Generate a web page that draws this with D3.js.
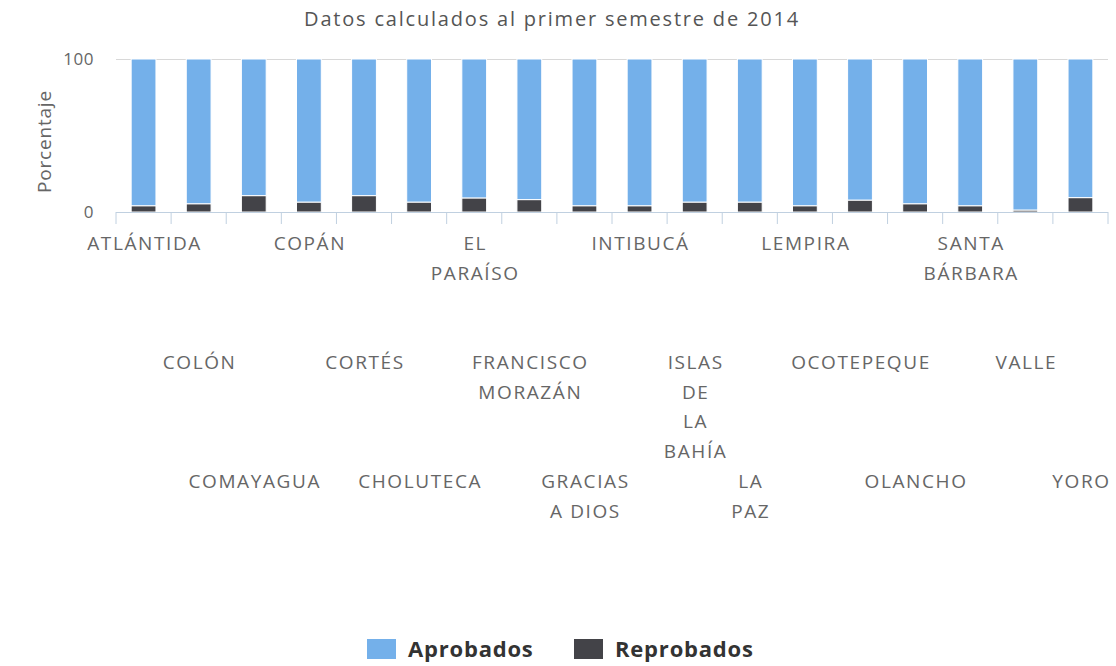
<!DOCTYPE html>
<html>
<head>
  <meta charset="UTF-8">
  <title>Aprobados y reprobados por departamento</title>
  <style>
    body {
      margin: 0;
      background: #fff;
      font-family: "Open Sans", sans-serif;
      overflow: hidden;
    }
    .title { font-size: 20px; letter-spacing: 1.8px; fill: #555; }
    .ylabel { font-size: 17px; fill: #666; letter-spacing: 0.5px; }
    .ytitle { font-size: 19px; fill: #666; letter-spacing: 0.8px; }
    .xlabel { font-size: 19px; fill: #666; letter-spacing: 1.6px; }
    .legend text { font-size: 22px; font-weight: bold; fill: #333; letter-spacing: 0.8px; }
  </style>
</head>
<body>

<svg id="chart"></svg>

<script src="https://d3js.org/d3.v7.min.js"></script>
<script>
const width = 1116;
const height = 666;

// departments, "\n" marks where the tick label wraps
const categories = [
  "ATLÁNTIDA", "COLÓN", "COMAYAGUA", "COPÁN", "CORTÉS", "CHOLUTECA",
  "EL\nPARAÍSO", "FRANCISCO\nMORAZÁN", "GRACIAS\nA DIOS", "INTIBUCÁ",
  "ISLAS\nDE\nLA\nBAHÍA", "LA\nPAZ", "LEMPIRA", "OCOTEPEQUE", "OLANCHO",
  "SANTA\nBÁRBARA", "VALLE", "YORO"
];

// percentages
const reprobados = [4.1, 5.4, 10.7, 6.5, 10.7, 6.5, 9.2, 8.1, 4.1, 4.1,
                    6.5, 6.5, 4.1, 7.8, 5.4, 4.1, 1.3, 9.4];
const aprobados = [95.9, 94.6, 89.3, 93.5, 89.3, 93.5, 90.8, 91.9, 95.9, 95.9,
                   93.5, 93.5, 95.9, 92.2, 94.6, 95.9, 98.7, 90.6];

const seriesNames = ["Aprobados", "Reprobados"];
const colors = { Aprobados: "#74b0ea", Reprobados: "#434348" };
const yTicks = [0, 100];

const plot = { left: 116, right: 1108, top: 59, bottom: 212 };

const svg = d3.select("#chart")
  .attr("width", width)
  .attr("height", height);

const rows = categories.map((c, i) => ({
  name: c,
  Aprobados: aprobados[i],
  Reprobados: reprobados[i]
}));

const x = d3.scaleBand()
  .domain(categories)
  .range([plot.left, plot.right])
  .paddingInner(0.55)
  .paddingOuter(0.275);

const y = d3.scaleLinear()
  .domain([0, 100])
  .range([plot.bottom, plot.top]);

// stack Reprobados at the bottom, Aprobados on top
const stack = d3.stack().keys(["Reprobados", "Aprobados"]);
const stacked = stack(rows);

// title
svg.append("text")
  .attr("class", "title")
  .attr("x", 552)
  .attr("y", 26)
  .attr("text-anchor", "middle")
  .text("Datos calculados al primer semestre de 2014");

// grid line at 100
svg.append("g")
  .selectAll("line")
  .data(yTicks.filter(d => d > 0))
  .join("line")
  .attr("x1", plot.left)
  .attr("x2", plot.right)
  .attr("y1", d => y(d) + 0.5)
  .attr("y2", d => y(d) + 0.5)
  .attr("stroke", "#d8d8d8")
  .attr("stroke-width", 1);

// y labels
svg.append("g")
  .selectAll("text")
  .data(yTicks)
  .join("text")
  .attr("class", "ylabel")
  .attr("x", 94)
  .attr("y", d => y(d) + 6)
  .attr("text-anchor", "end")
  .text(d => d);

svg.append("text")
  .attr("class", "ytitle")
  .attr("transform", `translate(51,${(plot.top + plot.bottom) / 2 + 6}) rotate(-90)`)
  .attr("text-anchor", "middle")
  .text("Porcentaje");

// bars
svg.append("g")
  .selectAll("g")
  .data(stacked)
  .join("g")
  .attr("fill", d => colors[d.key])
  .selectAll("rect")
  .data(d => d)
  .join("rect")
  .attr("x", d => x(d.data.name))
  .attr("width", x.bandwidth())
  .attr("y", d => y(d[1]))
  .attr("height", d => y(d[0]) - y(d[1]))
  .attr("stroke", "#fff")
  .attr("stroke-width", 1);

// x axis line and ticks between categories
const axis = svg.append("g");
axis.append("line")
  .attr("x1", plot.left)
  .attr("x2", plot.right)
  .attr("y1", plot.bottom + 0.5)
  .attr("y2", plot.bottom + 0.5)
  .attr("stroke", "#c0d0e0");

const step = x.step();
axis.selectAll("line.tick")
  .data(d3.range(categories.length + 1))
  .join("line")
  .attr("class", "tick")
  .attr("x1", i => plot.left + i * step)
  .attr("x2", i => plot.left + i * step)
  .attr("y1", plot.bottom)
  .attr("y2", plot.bottom + 12)
  .attr("stroke", "#c0d0e0");

// staggered category labels, three rows
const rowY = [250, 369, 488];
const lineH = 29.5;
const labels = svg.append("g")
  .selectAll("text")
  .data(categories)
  .join("text")
  .attr("class", "xlabel")
  .attr("text-anchor", "middle")
  .attr("x", d => x(d) + x.bandwidth() / 2 + 1)
  .attr("y", (d, i) => rowY[i % 3]);

labels.selectAll("tspan")
  .data(d => d.split("\n"))
  .join("tspan")
  .attr("x", function () { return this.parentNode.getAttribute("x"); })
  .attr("dy", (d, j) => j === 0 ? 0 : lineH)
  .text(d => d);

// legend
const legendItems = [
  { name: seriesNames[0], x: 367 },
  { name: seriesNames[1], x: 574 }
];
const legend = svg.append("g").attr("class", "legend");
const item = legend.selectAll("g")
  .data(legendItems)
  .join("g")
  .attr("transform", d => `translate(${d.x},639)`);

item.append("rect")
  .attr("width", 29)
  .attr("height", 20)
  .attr("fill", d => colors[d.name]);

item.append("text")
  .attr("x", 41)
  .attr("y", 18)
  .text(d => d.name);
</script>

</body>
</html>
